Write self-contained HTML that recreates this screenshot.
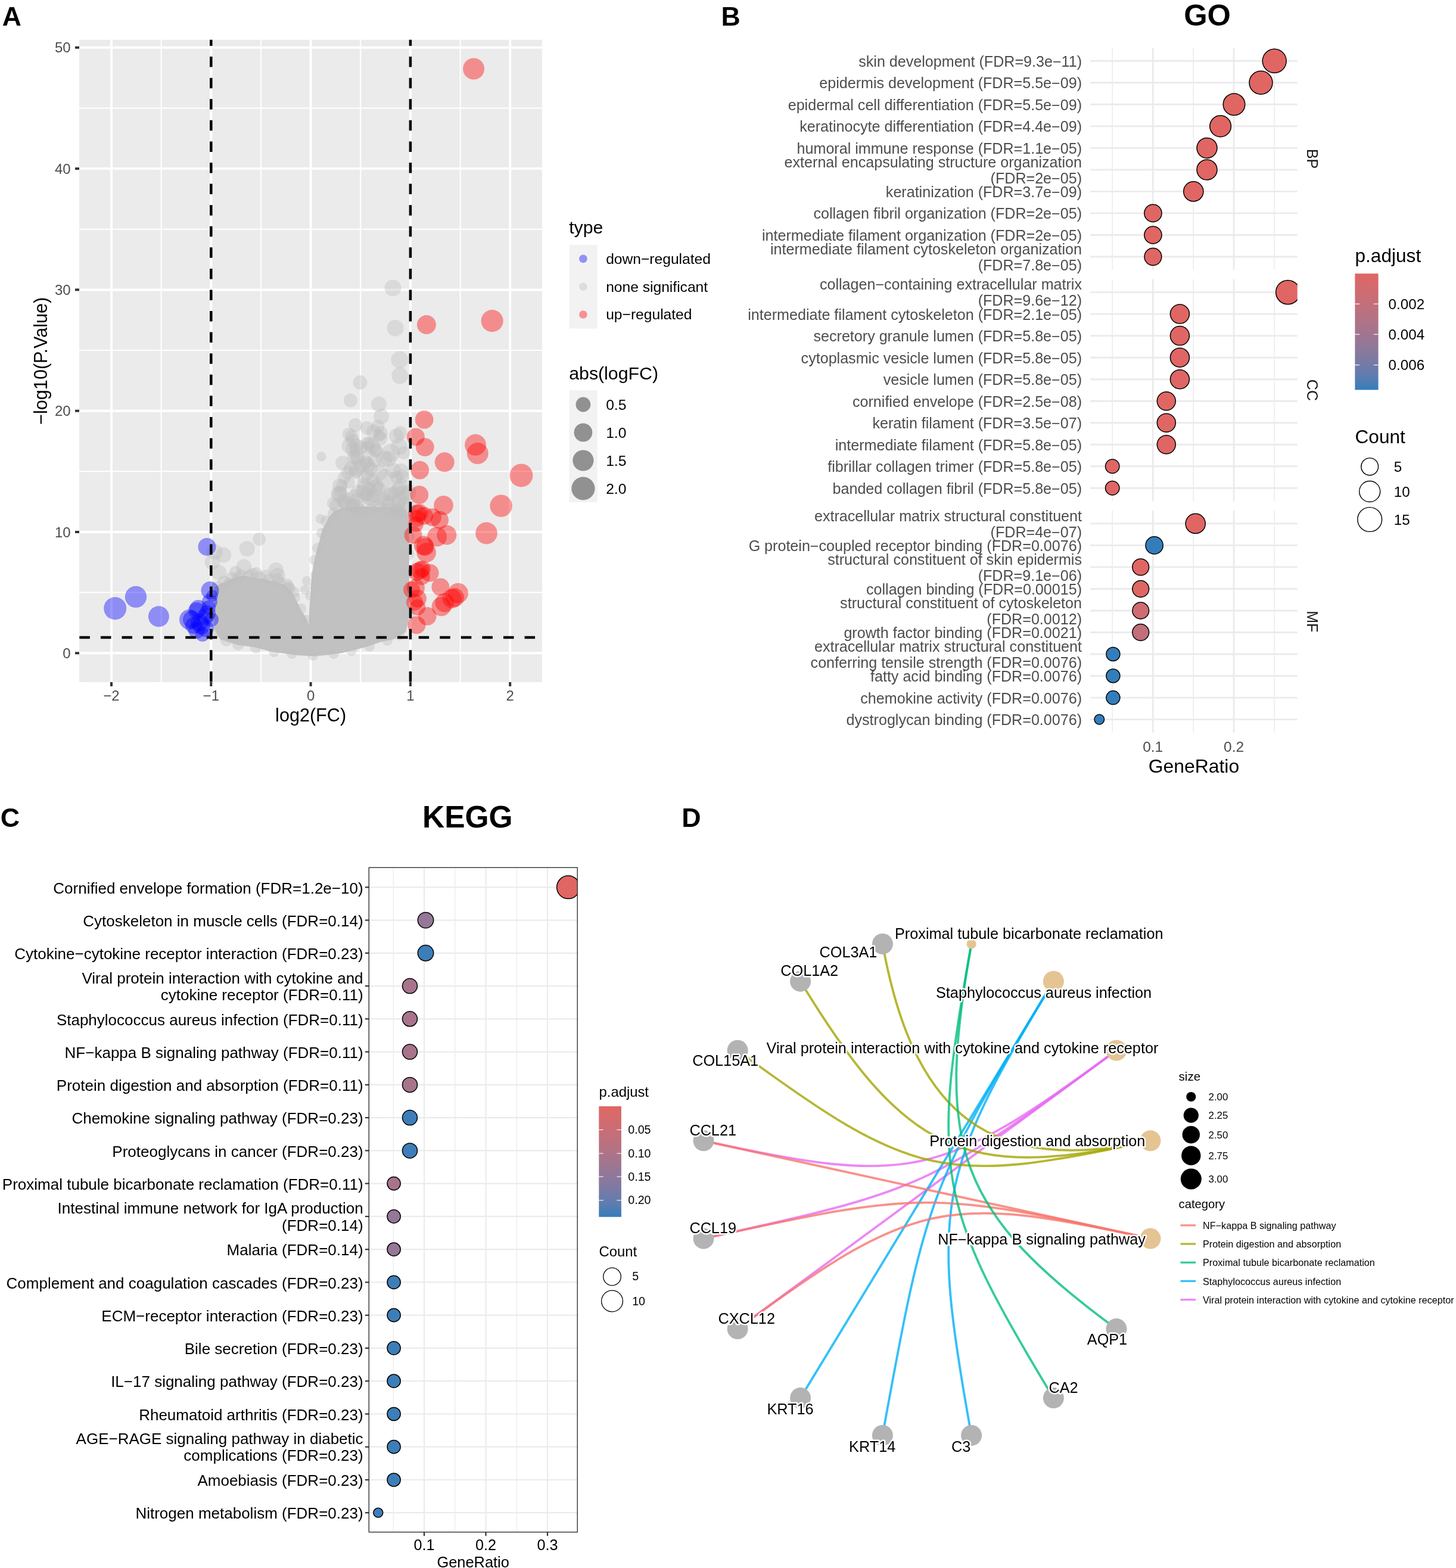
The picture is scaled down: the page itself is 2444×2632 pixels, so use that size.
<!DOCTYPE html><html><head><meta charset="utf-8"><title>Figure</title><style>html,body{margin:0;padding:0;background:#fff;overflow:hidden;}svg{display:block;}text{font-family:"Liberation Sans", Arial, sans-serif;}</style></head><body>
<svg width="2444" height="2632" viewBox="0 0 2444 2632">
<rect x="0" y="0" width="2444" height="2632" fill="#fff"/>
<defs><linearGradient id="gbar" x1="0" y1="0" x2="0" y2="1"><stop offset="0.00" stop-color="#e06663"/><stop offset="0.05" stop-color="#db6867"/><stop offset="0.10" stop-color="#d56a6c"/><stop offset="0.15" stop-color="#cf6b70"/><stop offset="0.20" stop-color="#ca6d74"/><stop offset="0.25" stop-color="#c46f79"/><stop offset="0.30" stop-color="#be707d"/><stop offset="0.35" stop-color="#b77181"/><stop offset="0.40" stop-color="#b17386"/><stop offset="0.45" stop-color="#aa748a"/><stop offset="0.50" stop-color="#a3758e"/><stop offset="0.55" stop-color="#9c7693"/><stop offset="0.60" stop-color="#947797"/><stop offset="0.65" stop-color="#8c789b"/><stop offset="0.70" stop-color="#8479a0"/><stop offset="0.75" stop-color="#7a7aa4"/><stop offset="0.80" stop-color="#707ba8"/><stop offset="0.85" stop-color="#657cad"/><stop offset="0.90" stop-color="#577db1"/><stop offset="0.95" stop-color="#487db6"/><stop offset="1.00" stop-color="#327eba"/></linearGradient><clipPath id="clipA"><rect x="133" y="66.8" width="777" height="1078.2"/></clipPath><clipPath id="clipGO1"><rect x="1830" y="80.4" width="347.7" height="372.5"/></clipPath><clipPath id="clipGO2"><rect x="1830" y="468.7" width="347.7" height="372.5"/></clipPath><clipPath id="clipGO3"><rect x="1830" y="857" width="347.7" height="372.3"/></clipPath><clipPath id="clipK"><rect x="619.3" y="1456.3" width="349.9" height="1115.4"/></clipPath></defs>
<text x="3.8" y="43.2" font-size="44.5" fill="#000" font-weight="bold">A</text>
<rect x="133.0" y="66.8" width="777.0" height="1078.2" fill="#EBEBEB"/>
<line x1="133.0" y1="994.6" x2="910.0" y2="994.6" stroke="#fff" stroke-width="2"/>
<line x1="133.0" y1="791.3" x2="910.0" y2="791.3" stroke="#fff" stroke-width="2"/>
<line x1="133.0" y1="588.0" x2="910.0" y2="588.0" stroke="#fff" stroke-width="2"/>
<line x1="133.0" y1="384.8" x2="910.0" y2="384.8" stroke="#fff" stroke-width="2"/>
<line x1="133.0" y1="181.5" x2="910.0" y2="181.5" stroke="#fff" stroke-width="2"/>
<line x1="270.6" y1="66.8" x2="270.6" y2="1145.0" stroke="#fff" stroke-width="2"/>
<line x1="438.0" y1="66.8" x2="438.0" y2="1145.0" stroke="#fff" stroke-width="2"/>
<line x1="605.2" y1="66.8" x2="605.2" y2="1145.0" stroke="#fff" stroke-width="2"/>
<line x1="772.6" y1="66.8" x2="772.6" y2="1145.0" stroke="#fff" stroke-width="2"/>
<line x1="133.0" y1="1096.3" x2="910.0" y2="1096.3" stroke="#fff" stroke-width="4"/>
<line x1="133.0" y1="893.0" x2="910.0" y2="893.0" stroke="#fff" stroke-width="4"/>
<line x1="133.0" y1="689.7" x2="910.0" y2="689.7" stroke="#fff" stroke-width="4"/>
<line x1="133.0" y1="486.4" x2="910.0" y2="486.4" stroke="#fff" stroke-width="4"/>
<line x1="133.0" y1="283.1" x2="910.0" y2="283.1" stroke="#fff" stroke-width="4"/>
<line x1="133.0" y1="79.8" x2="910.0" y2="79.8" stroke="#fff" stroke-width="4"/>
<line x1="187.0" y1="66.8" x2="187.0" y2="1145.0" stroke="#fff" stroke-width="4"/>
<line x1="354.3" y1="66.8" x2="354.3" y2="1145.0" stroke="#fff" stroke-width="4"/>
<line x1="521.6" y1="66.8" x2="521.6" y2="1145.0" stroke="#fff" stroke-width="4"/>
<line x1="688.9" y1="66.8" x2="688.9" y2="1145.0" stroke="#fff" stroke-width="4"/>
<line x1="856.2" y1="66.8" x2="856.2" y2="1145.0" stroke="#fff" stroke-width="4"/>
<g clip-path="url(#clipA)">
<path d="M361.0,986.0 L372.0,979.0 L384.0,974.0 L394.5,969.6 L408.2,965.7 L423.8,969.6 L441.3,971.6 L456.9,975.5 L476.4,981.3 L488.1,991.0 L495.9,1004.7 L505.6,1024.2 L515.3,1039.7 L518.3,1049.5 L519.5,1016.4 L521.2,996.9 L523.1,967.7 L527.0,944.3 L532.9,919.0 L536.8,905.3 L540.7,889.7 L546.0,880.0 L552.0,868.0 L561.0,858.0 L575.0,852.0 L590.0,851.0 L610.0,850.0 L630.0,851.0 L650.0,851.0 L668.0,852.0 L682.0,856.0 L686.0,870.0 L687.0,960.0 L686.0,1040.0 L681.0,1061.2 L661.4,1072.9 L642.0,1076.8 L612.7,1086.5 L573.8,1096.3 L545.0,1100.0 L525.1,1101.5 L500.0,1100.0 L486.1,1098.2 L456.9,1094.3 L427.7,1086.5 L398.4,1082.6 L369.2,1072.9 L359.5,1055.3 L359.5,1016.4 Z" fill="#C1C1C1"/>
<circle cx="366.0" cy="985.0" r="10.0" fill="rgba(190,190,190,0.4)"/>
<circle cx="376.0" cy="976.0" r="10.0" fill="rgba(190,190,190,0.4)"/>
<circle cx="388.0" cy="970.0" r="10.0" fill="rgba(190,190,190,0.4)"/>
<circle cx="404.0" cy="965.0" r="10.0" fill="rgba(190,190,190,0.4)"/>
<circle cx="424.0" cy="963.0" r="10.0" fill="rgba(190,190,190,0.4)"/>
<circle cx="446.0" cy="966.0" r="10.0" fill="rgba(190,190,190,0.4)"/>
<circle cx="466.0" cy="972.0" r="10.0" fill="rgba(190,190,190,0.4)"/>
<circle cx="482.0" cy="981.0" r="10.0" fill="rgba(190,190,190,0.4)"/>
<circle cx="494.0" cy="994.0" r="9.0" fill="rgba(190,190,190,0.4)"/>
<circle cx="370.0" cy="990.0" r="10.0" fill="rgba(190,190,190,0.4)"/>
<circle cx="385.0" cy="980.0" r="11.0" fill="rgba(190,190,190,0.4)"/>
<circle cx="400.0" cy="970.0" r="10.0" fill="rgba(190,190,190,0.4)"/>
<circle cx="418.0" cy="966.0" r="10.0" fill="rgba(190,190,190,0.4)"/>
<circle cx="436.0" cy="969.0" r="10.0" fill="rgba(190,190,190,0.4)"/>
<circle cx="452.0" cy="973.0" r="10.0" fill="rgba(190,190,190,0.4)"/>
<circle cx="470.0" cy="978.0" r="10.0" fill="rgba(190,190,190,0.4)"/>
<circle cx="486.0" cy="988.0" r="10.0" fill="rgba(190,190,190,0.4)"/>
<circle cx="495.0" cy="1003.0" r="9.0" fill="rgba(190,190,190,0.4)"/>
<circle cx="505.0" cy="1022.0" r="9.0" fill="rgba(190,190,190,0.4)"/>
<circle cx="514.0" cy="1040.0" r="8.0" fill="rgba(190,190,190,0.4)"/>
<circle cx="528.0" cy="940.0" r="9.0" fill="rgba(190,190,190,0.4)"/>
<circle cx="533.0" cy="920.0" r="9.0" fill="rgba(190,190,190,0.4)"/>
<circle cx="540.0" cy="895.0" r="9.0" fill="rgba(190,190,190,0.4)"/>
<circle cx="548.0" cy="875.0" r="10.0" fill="rgba(190,190,190,0.4)"/>
<circle cx="560.0" cy="862.0" r="10.0" fill="rgba(190,190,190,0.4)"/>
<circle cx="365.0" cy="1060.0" r="10.0" fill="rgba(190,190,190,0.4)"/>
<circle cx="380.0" cy="1075.0" r="10.0" fill="rgba(190,190,190,0.4)"/>
<circle cx="400.0" cy="1082.0" r="10.0" fill="rgba(190,190,190,0.4)"/>
<circle cx="430.0" cy="1087.0" r="10.0" fill="rgba(190,190,190,0.4)"/>
<circle cx="460.0" cy="1094.0" r="9.0" fill="rgba(190,190,190,0.4)"/>
<circle cx="490.0" cy="1097.0" r="9.0" fill="rgba(190,190,190,0.4)"/>
<circle cx="525.0" cy="1100.0" r="9.0" fill="rgba(190,190,190,0.4)"/>
<circle cx="560.0" cy="1097.0" r="9.0" fill="rgba(190,190,190,0.4)"/>
<circle cx="590.0" cy="1092.0" r="9.0" fill="rgba(190,190,190,0.4)"/>
<circle cx="620.0" cy="1085.0" r="9.0" fill="rgba(190,190,190,0.4)"/>
<circle cx="650.0" cy="1075.0" r="9.0" fill="rgba(190,190,190,0.4)"/>
<circle cx="670.0" cy="1066.0" r="9.0" fill="rgba(190,190,190,0.4)"/>
<circle cx="659.5" cy="483.4" r="14.0" fill="rgba(190,190,190,0.4)"/>
<circle cx="663.6" cy="550.7" r="14.0" fill="rgba(190,190,190,0.4)"/>
<circle cx="670.9" cy="604.0" r="14.6" fill="rgba(190,190,190,0.4)"/>
<circle cx="671.2" cy="630.6" r="14.0" fill="rgba(190,190,190,0.4)"/>
<circle cx="604.5" cy="642.0" r="12.0" fill="rgba(190,190,190,0.4)"/>
<circle cx="588.3" cy="672.0" r="11.5" fill="rgba(190,190,190,0.4)"/>
<circle cx="635.9" cy="678.6" r="13.0" fill="rgba(190,190,190,0.4)"/>
<circle cx="640.1" cy="699.1" r="13.0" fill="rgba(190,190,190,0.4)"/>
<circle cx="596.7" cy="713.6" r="11.5" fill="rgba(190,190,190,0.4)"/>
<circle cx="626.9" cy="724.4" r="12.0" fill="rgba(190,190,190,0.4)"/>
<circle cx="638.9" cy="726.9" r="12.0" fill="rgba(190,190,190,0.4)"/>
<circle cx="665.5" cy="731.7" r="12.5" fill="rgba(190,190,190,0.4)"/>
<circle cx="591.9" cy="740.1" r="11.5" fill="rgba(190,190,190,0.4)"/>
<circle cx="597.9" cy="747.4" r="11.5" fill="rgba(190,190,190,0.4)"/>
<circle cx="617.2" cy="752.2" r="11.5" fill="rgba(190,190,190,0.4)"/>
<circle cx="630.5" cy="755.8" r="12.0" fill="rgba(190,190,190,0.4)"/>
<circle cx="655.8" cy="760.6" r="15.5" fill="rgba(190,190,190,0.4)"/>
<circle cx="652.2" cy="770.3" r="13.0" fill="rgba(190,190,190,0.4)"/>
<circle cx="605.1" cy="782.3" r="12.0" fill="rgba(190,190,190,0.4)"/>
<circle cx="622.0" cy="787.2" r="12.0" fill="rgba(190,190,190,0.4)"/>
<circle cx="583.4" cy="793.2" r="11.0" fill="rgba(190,190,190,0.4)"/>
<circle cx="646.2" cy="802.8" r="15.5" fill="rgba(190,190,190,0.4)"/>
<circle cx="573.8" cy="814.9" r="10.0" fill="rgba(190,190,190,0.4)"/>
<circle cx="585.8" cy="810.1" r="10.0" fill="rgba(190,190,190,0.4)"/>
<circle cx="669.1" cy="821.0" r="13.0" fill="rgba(190,190,190,0.4)"/>
<circle cx="584.6" cy="836.6" r="10.0" fill="rgba(190,190,190,0.4)"/>
<circle cx="642.5" cy="839.0" r="13.0" fill="rgba(190,190,190,0.4)"/>
<circle cx="539.5" cy="766.5" r="8.0" fill="rgba(190,190,190,0.4)"/>
<circle cx="537.8" cy="871.0" r="8.0" fill="rgba(190,190,190,0.4)"/>
<circle cx="600.0" cy="770.0" r="12.0" fill="rgba(190,190,190,0.4)"/>
<circle cx="612.0" cy="800.0" r="12.0" fill="rgba(190,190,190,0.4)"/>
<circle cx="632.0" cy="815.0" r="12.0" fill="rgba(190,190,190,0.4)"/>
<circle cx="660.0" cy="790.0" r="13.0" fill="rgba(190,190,190,0.4)"/>
<circle cx="675.0" cy="800.0" r="12.0" fill="rgba(190,190,190,0.4)"/>
<circle cx="678.0" cy="760.0" r="11.0" fill="rgba(190,190,190,0.4)"/>
<circle cx="615.0" cy="830.0" r="12.0" fill="rgba(190,190,190,0.4)"/>
<circle cx="600.0" cy="825.0" r="11.0" fill="rgba(190,190,190,0.4)"/>
<circle cx="590.0" cy="850.0" r="11.0" fill="rgba(190,190,190,0.4)"/>
<circle cx="650.0" cy="830.0" r="12.0" fill="rgba(190,190,190,0.4)"/>
<circle cx="668.0" cy="845.0" r="12.0" fill="rgba(190,190,190,0.4)"/>
<circle cx="560.0" cy="845.0" r="11.0" fill="rgba(190,190,190,0.4)"/>
<circle cx="575.0" cy="840.0" r="11.0" fill="rgba(190,190,190,0.4)"/>
<circle cx="435.2" cy="905.0" r="11.0" fill="rgba(190,190,190,0.4)"/>
<circle cx="414.7" cy="921.0" r="13.0" fill="rgba(190,190,190,0.4)"/>
<circle cx="375.3" cy="931.6" r="13.0" fill="rgba(190,190,190,0.4)"/>
<circle cx="360.6" cy="926.2" r="13.0" fill="rgba(190,190,190,0.4)"/>
<circle cx="356.6" cy="943.5" r="13.0" fill="rgba(190,190,190,0.4)"/>
<circle cx="367.3" cy="960.9" r="13.0" fill="rgba(190,190,190,0.4)"/>
<circle cx="409.4" cy="951.5" r="13.0" fill="rgba(190,190,190,0.4)"/>
<circle cx="463.2" cy="956.9" r="13.0" fill="rgba(190,190,190,0.4)"/>
<circle cx="465.8" cy="966.2" r="13.0" fill="rgba(190,190,190,0.4)"/>
<circle cx="484.5" cy="984.8" r="9.5" fill="rgba(190,190,190,0.4)"/>
<circle cx="395.0" cy="960.0" r="10.0" fill="rgba(190,190,190,0.4)"/>
<circle cx="430.0" cy="962.0" r="10.0" fill="rgba(190,190,190,0.4)"/>
<circle cx="520.0" cy="1000.0" r="8.0" fill="rgba(190,190,190,0.4)"/>
<circle cx="512.0" cy="990.0" r="8.0" fill="rgba(190,190,190,0.4)"/>
<circle cx="515.0" cy="975.0" r="8.0" fill="rgba(190,190,190,0.4)"/>
<circle cx="528.0" cy="985.0" r="9.0" fill="rgba(190,190,190,0.4)"/>
<circle cx="530.0" cy="965.0" r="9.0" fill="rgba(190,190,190,0.4)"/>
<circle cx="683.0" cy="870.0" r="12.0" fill="rgba(190,190,190,0.4)"/>
<circle cx="684.0" cy="900.0" r="12.0" fill="rgba(190,190,190,0.4)"/>
<circle cx="683.0" cy="930.0" r="12.0" fill="rgba(190,190,190,0.4)"/>
<circle cx="684.0" cy="960.0" r="12.0" fill="rgba(190,190,190,0.4)"/>
<circle cx="683.0" cy="995.0" r="12.0" fill="rgba(190,190,190,0.4)"/>
<circle cx="684.0" cy="1030.0" r="12.0" fill="rgba(190,190,190,0.4)"/>
<circle cx="589.8" cy="786.7" r="12.8" fill="rgba(190,190,190,0.4)"/>
<circle cx="638.4" cy="735.8" r="11.8" fill="rgba(190,190,190,0.4)"/>
<circle cx="636.3" cy="730.9" r="10.6" fill="rgba(190,190,190,0.4)"/>
<circle cx="577.7" cy="801.9" r="10.8" fill="rgba(190,190,190,0.4)"/>
<circle cx="665.9" cy="800.8" r="10.9" fill="rgba(190,190,190,0.4)"/>
<circle cx="645.0" cy="770.3" r="13.8" fill="rgba(190,190,190,0.4)"/>
<circle cx="613.7" cy="819.1" r="13.9" fill="rgba(190,190,190,0.4)"/>
<circle cx="671.9" cy="726.7" r="11.5" fill="rgba(190,190,190,0.4)"/>
<circle cx="591.7" cy="754.6" r="11.6" fill="rgba(190,190,190,0.4)"/>
<circle cx="580.0" cy="843.6" r="12.5" fill="rgba(190,190,190,0.4)"/>
<circle cx="609.2" cy="825.9" r="12.4" fill="rgba(190,190,190,0.4)"/>
<circle cx="590.5" cy="732.6" r="11.2" fill="rgba(190,190,190,0.4)"/>
<circle cx="615.0" cy="830.2" r="11.6" fill="rgba(190,190,190,0.4)"/>
<circle cx="620.4" cy="820.1" r="11.5" fill="rgba(190,190,190,0.4)"/>
<circle cx="647.3" cy="841.5" r="11.4" fill="rgba(190,190,190,0.4)"/>
<circle cx="629.1" cy="818.8" r="13.6" fill="rgba(190,190,190,0.4)"/>
<circle cx="596.2" cy="835.2" r="13.9" fill="rgba(190,190,190,0.4)"/>
<circle cx="624.5" cy="748.4" r="13.1" fill="rgba(190,190,190,0.4)"/>
<circle cx="631.2" cy="756.3" r="10.6" fill="rgba(190,190,190,0.4)"/>
<circle cx="656.9" cy="829.0" r="12.5" fill="rgba(190,190,190,0.4)"/>
<circle cx="595.7" cy="849.1" r="12.9" fill="rgba(190,190,190,0.4)"/>
<circle cx="635.4" cy="821.1" r="12.1" fill="rgba(190,190,190,0.4)"/>
<circle cx="678.8" cy="845.8" r="12.2" fill="rgba(190,190,190,0.4)"/>
<circle cx="570.1" cy="828.5" r="13.0" fill="rgba(190,190,190,0.4)"/>
<circle cx="685.2" cy="826.8" r="13.4" fill="rgba(190,190,190,0.4)"/>
<circle cx="617.1" cy="780.7" r="12.8" fill="rgba(190,190,190,0.4)"/>
<circle cx="634.4" cy="715.5" r="11.1" fill="rgba(190,190,190,0.4)"/>
<circle cx="586.6" cy="748.2" r="13.2" fill="rgba(190,190,190,0.4)"/>
<circle cx="606.1" cy="751.1" r="11.9" fill="rgba(190,190,190,0.4)"/>
<circle cx="565.1" cy="848.7" r="12.1" fill="rgba(190,190,190,0.4)"/>
<circle cx="672.1" cy="816.0" r="13.4" fill="rgba(190,190,190,0.4)"/>
<circle cx="591.3" cy="848.0" r="12.0" fill="rgba(190,190,190,0.4)"/>
<circle cx="672.8" cy="791.8" r="13.9" fill="rgba(190,190,190,0.4)"/>
<circle cx="597.7" cy="756.0" r="11.3" fill="rgba(190,190,190,0.4)"/>
<circle cx="629.1" cy="772.1" r="12.6" fill="rgba(190,190,190,0.4)"/>
<circle cx="575.0" cy="777.1" r="12.0" fill="rgba(190,190,190,0.4)"/>
<circle cx="636.3" cy="793.3" r="13.8" fill="rgba(190,190,190,0.4)"/>
<circle cx="625.7" cy="831.3" r="12.7" fill="rgba(190,190,190,0.4)"/>
<circle cx="568.8" cy="829.8" r="13.6" fill="rgba(190,190,190,0.4)"/>
<circle cx="669.9" cy="840.1" r="13.3" fill="rgba(190,190,190,0.4)"/>
<circle cx="616.7" cy="796.5" r="10.9" fill="rgba(190,190,190,0.4)"/>
<circle cx="571.4" cy="825.4" r="10.7" fill="rgba(190,190,190,0.4)"/>
<circle cx="594.2" cy="767.7" r="11.7" fill="rgba(190,190,190,0.4)"/>
<circle cx="585.7" cy="729.0" r="11.0" fill="rgba(190,190,190,0.4)"/>
<circle cx="619.3" cy="744.2" r="10.6" fill="rgba(190,190,190,0.4)"/>
<circle cx="635.2" cy="849.0" r="11.0" fill="rgba(190,190,190,0.4)"/>
<circle cx="613.5" cy="775.4" r="11.8" fill="rgba(190,190,190,0.4)"/>
<circle cx="670.0" cy="749.6" r="14.0" fill="rgba(190,190,190,0.4)"/>
<circle cx="625.5" cy="806.0" r="10.8" fill="rgba(190,190,190,0.4)"/>
<circle cx="617.1" cy="744.3" r="11.4" fill="rgba(190,190,190,0.4)"/>
<circle cx="577.1" cy="844.8" r="10.6" fill="rgba(190,190,190,0.4)"/>
<circle cx="622.8" cy="855.8" r="11.0" fill="rgba(190,190,190,0.4)"/>
<circle cx="570.2" cy="815.3" r="12.3" fill="rgba(190,190,190,0.4)"/>
<circle cx="667.7" cy="858.2" r="12.9" fill="rgba(190,190,190,0.4)"/>
<circle cx="615.5" cy="776.9" r="11.1" fill="rgba(190,190,190,0.4)"/>
<circle cx="626.3" cy="839.4" r="13.2" fill="rgba(190,190,190,0.4)"/>
<circle cx="597.8" cy="787.6" r="13.3" fill="rgba(190,190,190,0.4)"/>
<circle cx="666.3" cy="858.7" r="13.3" fill="rgba(190,190,190,0.4)"/>
<circle cx="652.3" cy="843.8" r="11.3" fill="rgba(190,190,190,0.4)"/>
<circle cx="609.7" cy="812.3" r="10.6" fill="rgba(190,190,190,0.4)"/>
<circle cx="616.2" cy="718.4" r="11.4" fill="rgba(190,190,190,0.4)"/>
<circle cx="680.6" cy="831.5" r="12.1" fill="rgba(190,190,190,0.4)"/>
<circle cx="684.4" cy="854.6" r="13.8" fill="rgba(190,190,190,0.4)"/>
<circle cx="596.7" cy="792.7" r="11.3" fill="rgba(190,190,190,0.4)"/>
<circle cx="599.2" cy="765.4" r="12.7" fill="rgba(190,190,190,0.4)"/>
<circle cx="664.9" cy="851.3" r="12.2" fill="rgba(190,190,190,0.4)"/>
<circle cx="661.4" cy="827.4" r="10.8" fill="rgba(190,190,190,0.4)"/>
<circle cx="674.9" cy="828.2" r="13.2" fill="rgba(190,190,190,0.4)"/>
<circle cx="619.8" cy="837.2" r="11.1" fill="rgba(190,190,190,0.4)"/>
<circle cx="600.3" cy="841.0" r="13.3" fill="rgba(190,190,190,0.4)"/>
<circle cx="605.0" cy="857.6" r="11.9" fill="rgba(190,190,190,0.4)"/>
<circle cx="649.1" cy="855.4" r="11.1" fill="rgba(190,190,190,0.4)"/>
<circle cx="193.2" cy="1021.3" r="19.0" fill="rgba(0,0,255,0.4)"/>
<circle cx="228.0" cy="1001.9" r="18.2" fill="rgba(0,0,255,0.4)"/>
<circle cx="266.4" cy="1034.8" r="17.5" fill="rgba(0,0,255,0.4)"/>
<circle cx="347.5" cy="917.9" r="15.0" fill="rgba(0,0,255,0.4)"/>
<circle cx="352.5" cy="991.0" r="15.0" fill="rgba(0,0,255,0.4)"/>
<circle cx="318.0" cy="1040.0" r="17.0" fill="rgba(0,0,255,0.4)"/>
<circle cx="333.0" cy="1022.0" r="15.0" fill="rgba(0,0,255,0.4)"/>
<circle cx="335.0" cy="1045.0" r="15.0" fill="rgba(0,0,255,0.4)"/>
<circle cx="345.0" cy="1055.0" r="14.0" fill="rgba(0,0,255,0.4)"/>
<circle cx="330.0" cy="1058.0" r="14.0" fill="rgba(0,0,255,0.4)"/>
<circle cx="352.0" cy="1010.0" r="13.0" fill="rgba(0,0,255,0.4)"/>
<circle cx="348.0" cy="1030.0" r="14.0" fill="rgba(0,0,255,0.4)"/>
<circle cx="325.0" cy="1050.0" r="14.0" fill="rgba(0,0,255,0.4)"/>
<circle cx="355.0" cy="1040.0" r="12.0" fill="rgba(0,0,255,0.4)"/>
<circle cx="340.0" cy="1065.0" r="12.0" fill="rgba(0,0,255,0.4)"/>
<circle cx="350.0" cy="1020.0" r="12.0" fill="rgba(0,0,255,0.4)"/>
<circle cx="356.0" cy="1000.0" r="10.0" fill="rgba(0,0,255,0.4)"/>
<circle cx="322.0" cy="1040.0" r="15.0" fill="rgba(0,0,255,0.4)"/>
<circle cx="338.0" cy="1050.0" r="15.0" fill="rgba(0,0,255,0.4)"/>
<circle cx="345.0" cy="1035.0" r="14.0" fill="rgba(0,0,255,0.4)"/>
<circle cx="330.0" cy="1025.0" r="14.0" fill="rgba(0,0,255,0.4)"/>
<circle cx="795.1" cy="115.5" r="18.0" fill="rgba(255,0,0,0.4)"/>
<circle cx="715.9" cy="545.0" r="16.0" fill="rgba(255,0,0,0.4)"/>
<circle cx="826.1" cy="538.6" r="18.6" fill="rgba(255,0,0,0.4)"/>
<circle cx="712.1" cy="704.4" r="15.4" fill="rgba(255,0,0,0.4)"/>
<circle cx="697.9" cy="733.4" r="15.0" fill="rgba(255,0,0,0.4)"/>
<circle cx="713.3" cy="750.6" r="15.4" fill="rgba(255,0,0,0.4)"/>
<circle cx="798.1" cy="746.8" r="18.0" fill="rgba(255,0,0,0.4)"/>
<circle cx="801.7" cy="761.0" r="18.0" fill="rgba(255,0,0,0.4)"/>
<circle cx="746.2" cy="775.8" r="16.5" fill="rgba(255,0,0,0.4)"/>
<circle cx="704.7" cy="789.2" r="15.4" fill="rgba(255,0,0,0.4)"/>
<circle cx="874.9" cy="798.1" r="19.5" fill="rgba(255,0,0,0.4)"/>
<circle cx="703.8" cy="830.7" r="15.4" fill="rgba(255,0,0,0.4)"/>
<circle cx="744.5" cy="848.2" r="16.3" fill="rgba(255,0,0,0.4)"/>
<circle cx="841.1" cy="849.1" r="18.7" fill="rgba(255,0,0,0.4)"/>
<circle cx="703.8" cy="861.0" r="15.0" fill="rgba(255,0,0,0.4)"/>
<circle cx="726.0" cy="868.3" r="15.0" fill="rgba(255,0,0,0.4)"/>
<circle cx="738.0" cy="872.8" r="15.0" fill="rgba(255,0,0,0.4)"/>
<circle cx="749.8" cy="898.0" r="16.5" fill="rgba(255,0,0,0.4)"/>
<circle cx="733.5" cy="901.0" r="16.5" fill="rgba(255,0,0,0.4)"/>
<circle cx="816.5" cy="895.0" r="18.4" fill="rgba(255,0,0,0.4)"/>
<circle cx="693.5" cy="898.0" r="15.0" fill="rgba(255,0,0,0.4)"/>
<circle cx="711.2" cy="915.8" r="16.3" fill="rgba(255,0,0,0.4)"/>
<circle cx="715.7" cy="927.6" r="16.3" fill="rgba(255,0,0,0.4)"/>
<circle cx="705.3" cy="957.3" r="15.0" fill="rgba(255,0,0,0.4)"/>
<circle cx="721.6" cy="961.7" r="15.0" fill="rgba(255,0,0,0.4)"/>
<circle cx="739.4" cy="985.4" r="15.0" fill="rgba(255,0,0,0.4)"/>
<circle cx="769.0" cy="995.8" r="17.0" fill="rgba(255,0,0,0.4)"/>
<circle cx="758.7" cy="1004.7" r="16.3" fill="rgba(255,0,0,0.4)"/>
<circle cx="740.9" cy="1018.0" r="16.3" fill="rgba(255,0,0,0.4)"/>
<circle cx="697.9" cy="986.9" r="15.0" fill="rgba(255,0,0,0.4)"/>
<circle cx="700.9" cy="1004.7" r="15.0" fill="rgba(255,0,0,0.4)"/>
<circle cx="700.9" cy="1019.5" r="13.5" fill="rgba(255,0,0,0.4)"/>
<circle cx="717.2" cy="1034.4" r="15.4" fill="rgba(255,0,0,0.4)"/>
<circle cx="699.4" cy="1049.2" r="15.0" fill="rgba(255,0,0,0.4)"/>
<circle cx="700.0" cy="870.0" r="14.0" fill="rgba(255,0,0,0.4)"/>
<circle cx="698.0" cy="880.0" r="13.0" fill="rgba(255,0,0,0.4)"/>
<circle cx="708.0" cy="968.0" r="14.0" fill="rgba(255,0,0,0.4)"/>
<circle cx="700.0" cy="862.0" r="15.0" fill="rgba(255,0,0,0.4)"/>
<circle cx="712.0" cy="866.0" r="15.0" fill="rgba(255,0,0,0.4)"/>
<circle cx="713.6" cy="918.0" r="15.0" fill="rgba(255,0,0,0.4)"/>
<circle cx="700.0" cy="960.0" r="15.0" fill="rgba(255,0,0,0.4)"/>
<circle cx="709.0" cy="955.0" r="14.0" fill="rgba(255,0,0,0.4)"/>
<circle cx="691.0" cy="990.0" r="14.0" fill="rgba(255,0,0,0.4)"/>
<circle cx="746.4" cy="1011.5" r="16.0" fill="rgba(255,0,0,0.4)"/>
<circle cx="763.2" cy="1003.0" r="16.0" fill="rgba(255,0,0,0.4)"/>
<circle cx="696.0" cy="1011.0" r="14.0" fill="rgba(255,0,0,0.4)"/>
<line x1="354.3" y1="59.5" x2="354.3" y2="1150" stroke="#000" stroke-width="4.5" stroke-dasharray="17.5 18.08"/>
<line x1="688.9" y1="59.5" x2="688.9" y2="1150" stroke="#000" stroke-width="4.5" stroke-dasharray="17.5 18.08"/>
<line x1="97.8" y1="1069.9" x2="915" y2="1069.9" stroke="#000" stroke-width="4.5" stroke-dasharray="17.5 18.08"/>
</g>
<line x1="126.0" y1="1096.3" x2="133.0" y2="1096.3" stroke="#333333" stroke-width="4"/>
<text x="118.7" y="1104.9" font-size="24" fill="#4D4D4D" text-anchor="end">0</text>
<line x1="126.0" y1="893.0" x2="133.0" y2="893.0" stroke="#333333" stroke-width="4"/>
<text x="118.7" y="901.6" font-size="24" fill="#4D4D4D" text-anchor="end">10</text>
<line x1="126.0" y1="689.7" x2="133.0" y2="689.7" stroke="#333333" stroke-width="4"/>
<text x="118.7" y="698.3" font-size="24" fill="#4D4D4D" text-anchor="end">20</text>
<line x1="126.0" y1="486.4" x2="133.0" y2="486.4" stroke="#333333" stroke-width="4"/>
<text x="118.7" y="495.0" font-size="24" fill="#4D4D4D" text-anchor="end">30</text>
<line x1="126.0" y1="283.1" x2="133.0" y2="283.1" stroke="#333333" stroke-width="4"/>
<text x="118.7" y="291.7" font-size="24" fill="#4D4D4D" text-anchor="end">40</text>
<line x1="126.0" y1="79.8" x2="133.0" y2="79.8" stroke="#333333" stroke-width="4"/>
<text x="118.7" y="88.4" font-size="24" fill="#4D4D4D" text-anchor="end">50</text>
<line x1="187.0" y1="1145.0" x2="187.0" y2="1152.0" stroke="#333333" stroke-width="4"/>
<text x="187.0" y="1176.2" font-size="24" fill="#4D4D4D" text-anchor="middle">−2</text>
<line x1="354.3" y1="1145.0" x2="354.3" y2="1152.0" stroke="#333333" stroke-width="4"/>
<text x="354.3" y="1176.2" font-size="24" fill="#4D4D4D" text-anchor="middle">−1</text>
<line x1="521.6" y1="1145.0" x2="521.6" y2="1152.0" stroke="#333333" stroke-width="4"/>
<text x="521.6" y="1176.2" font-size="24" fill="#4D4D4D" text-anchor="middle">0</text>
<line x1="688.9" y1="1145.0" x2="688.9" y2="1152.0" stroke="#333333" stroke-width="4"/>
<text x="688.9" y="1176.2" font-size="24" fill="#4D4D4D" text-anchor="middle">1</text>
<line x1="856.2" y1="1145.0" x2="856.2" y2="1152.0" stroke="#333333" stroke-width="4"/>
<text x="856.2" y="1176.2" font-size="24" fill="#4D4D4D" text-anchor="middle">2</text>
<text x="521.6" y="1211.3" font-size="30.6" fill="#000" text-anchor="middle">log2(FC)</text>
<text x="78.6" y="605.8" font-size="30.6" fill="#000" text-anchor="middle" transform="rotate(-90 78.6 605.8)">−log10(P.Value)</text>
<text x="955.2" y="391.5" font-size="30.3" fill="#000">type</text>
<rect x="955.6" y="411.0" width="46.9" height="140.5" fill="#F2F2F2"/>
<circle cx="978.9" cy="434.4" r="6.8" fill="rgba(0,0,255,0.4)"/>
<text x="1017.2" y="442.7" font-size="24.6" fill="#000">down−regulated</text>
<circle cx="978.9" cy="481.2" r="6.8" fill="rgba(190,190,190,0.4)"/>
<text x="1017.2" y="489.5" font-size="24.6" fill="#000">none significant</text>
<circle cx="978.9" cy="528.0" r="6.8" fill="rgba(255,0,0,0.4)"/>
<text x="1017.2" y="536.3" font-size="24.6" fill="#000">up−regulated</text>
<text x="955.2" y="637.0" font-size="30.3" fill="#000">abs(logFC)</text>
<rect x="955.6" y="655.0" width="46.9" height="188.0" fill="#F2F2F2"/>
<circle cx="978.9" cy="679.0" r="12.4" fill="rgba(0,0,0,0.4)"/>
<text x="1017.2" y="687.5" font-size="24.6" fill="#000">0.5</text>
<circle cx="978.9" cy="726.0" r="15.4" fill="rgba(0,0,0,0.4)"/>
<text x="1017.2" y="734.5" font-size="24.6" fill="#000">1.0</text>
<circle cx="978.9" cy="773.0" r="17.6" fill="rgba(0,0,0,0.4)"/>
<text x="1017.2" y="781.5" font-size="24.6" fill="#000">1.5</text>
<circle cx="978.9" cy="820.0" r="19.6" fill="rgba(0,0,0,0.4)"/>
<text x="1017.2" y="828.5" font-size="24.6" fill="#000">2.0</text>
<text x="1210.5" y="43.0" font-size="44.5" fill="#000" font-weight="bold">B</text>
<text x="2026.5" y="43.3" font-size="50.6" fill="#000" text-anchor="middle" font-weight="bold">GO</text>
<line x1="1867.2" y1="80.4" x2="1867.2" y2="452.9" stroke="#EBEBEB" stroke-width="1.5"/>
<line x1="2003.2" y1="80.4" x2="2003.2" y2="452.9" stroke="#EBEBEB" stroke-width="1.5"/>
<line x1="2139.1" y1="80.4" x2="2139.1" y2="452.9" stroke="#EBEBEB" stroke-width="1.5"/>
<line x1="1935.2" y1="80.4" x2="1935.2" y2="452.9" stroke="#EBEBEB" stroke-width="2.9"/>
<line x1="2071.1" y1="80.4" x2="2071.1" y2="452.9" stroke="#EBEBEB" stroke-width="2.9"/>
<line x1="1830.0" y1="102.3" x2="2177.7" y2="102.3" stroke="#EBEBEB" stroke-width="2.9"/>
<line x1="1830.0" y1="138.8" x2="2177.7" y2="138.8" stroke="#EBEBEB" stroke-width="2.9"/>
<line x1="1830.0" y1="175.3" x2="2177.7" y2="175.3" stroke="#EBEBEB" stroke-width="2.9"/>
<line x1="1830.0" y1="211.9" x2="2177.7" y2="211.9" stroke="#EBEBEB" stroke-width="2.9"/>
<line x1="1830.0" y1="248.4" x2="2177.7" y2="248.4" stroke="#EBEBEB" stroke-width="2.9"/>
<line x1="1830.0" y1="284.9" x2="2177.7" y2="284.9" stroke="#EBEBEB" stroke-width="2.9"/>
<line x1="1830.0" y1="321.4" x2="2177.7" y2="321.4" stroke="#EBEBEB" stroke-width="2.9"/>
<line x1="1830.0" y1="357.9" x2="2177.7" y2="357.9" stroke="#EBEBEB" stroke-width="2.9"/>
<line x1="1830.0" y1="394.5" x2="2177.7" y2="394.5" stroke="#EBEBEB" stroke-width="2.9"/>
<line x1="1830.0" y1="431.0" x2="2177.7" y2="431.0" stroke="#EBEBEB" stroke-width="2.9"/>
<g clip-path="url(#clipGO1)">
<circle cx="2139.2" cy="102.3" r="20.0" fill="#e06663" stroke="#000" stroke-width="1.5"/>
<circle cx="2116.5" cy="138.8" r="19.5" fill="#e06663" stroke="#000" stroke-width="1.5"/>
<circle cx="2071.5" cy="175.3" r="18.3" fill="#e06663" stroke="#000" stroke-width="1.5"/>
<circle cx="2048.6" cy="211.9" r="17.8" fill="#e06663" stroke="#000" stroke-width="1.5"/>
<circle cx="2026.0" cy="248.4" r="17.0" fill="#e06663" stroke="#000" stroke-width="1.5"/>
<circle cx="2026.0" cy="284.9" r="17.0" fill="#e06663" stroke="#000" stroke-width="1.5"/>
<circle cx="2003.3" cy="321.4" r="16.6" fill="#e06663" stroke="#000" stroke-width="1.5"/>
<circle cx="1935.4" cy="357.9" r="14.6" fill="#e06663" stroke="#000" stroke-width="1.5"/>
<circle cx="1935.4" cy="394.5" r="14.6" fill="#e06663" stroke="#000" stroke-width="1.5"/>
<circle cx="1935.4" cy="431.0" r="14.4" fill="#df6664" stroke="#000" stroke-width="1.5"/>
</g>
<text x="1816.0" y="111.8" font-size="25.1" fill="#4D4D4D" text-anchor="end">skin development (FDR=9.3e−11)</text>
<text x="1816.0" y="148.3" font-size="25.1" fill="#4D4D4D" text-anchor="end">epidermis development (FDR=5.5e−09)</text>
<text x="1816.0" y="184.8" font-size="25.1" fill="#4D4D4D" text-anchor="end">epidermal cell differentiation (FDR=5.5e−09)</text>
<text x="1816.0" y="221.4" font-size="25.1" fill="#4D4D4D" text-anchor="end">keratinocyte differentiation (FDR=4.4e−09)</text>
<text x="1816.0" y="257.9" font-size="25.1" fill="#4D4D4D" text-anchor="end">humoral immune response (FDR=1.1e−05)</text>
<text x="1816.0" y="280.6" font-size="25.1" fill="#4D4D4D" text-anchor="end">external encapsulating structure organization</text>
<text x="1816.0" y="307.5" font-size="25.1" fill="#4D4D4D" text-anchor="end">(FDR=2e−05)</text>
<text x="1816.0" y="330.9" font-size="25.1" fill="#4D4D4D" text-anchor="end">keratinization (FDR=3.7e−09)</text>
<text x="1816.0" y="367.4" font-size="25.1" fill="#4D4D4D" text-anchor="end">collagen fibril organization (FDR=2e−05)</text>
<text x="1816.0" y="404.0" font-size="25.1" fill="#4D4D4D" text-anchor="end">intermediate filament organization (FDR=2e−05)</text>
<text x="1816.0" y="426.7" font-size="25.1" fill="#4D4D4D" text-anchor="end">intermediate filament cytoskeleton organization</text>
<text x="1816.0" y="453.6" font-size="25.1" fill="#4D4D4D" text-anchor="end">(FDR=7.8e−05)</text>
<text x="2193.5" y="266.6" font-size="25" fill="#1A1A1A" text-anchor="middle" transform="rotate(90 2193.5 266.6)">BP</text>
<line x1="1867.2" y1="468.7" x2="1867.2" y2="841.2" stroke="#EBEBEB" stroke-width="1.5"/>
<line x1="2003.2" y1="468.7" x2="2003.2" y2="841.2" stroke="#EBEBEB" stroke-width="1.5"/>
<line x1="2139.1" y1="468.7" x2="2139.1" y2="841.2" stroke="#EBEBEB" stroke-width="1.5"/>
<line x1="1935.2" y1="468.7" x2="1935.2" y2="841.2" stroke="#EBEBEB" stroke-width="2.9"/>
<line x1="2071.1" y1="468.7" x2="2071.1" y2="841.2" stroke="#EBEBEB" stroke-width="2.9"/>
<line x1="1830.0" y1="490.6" x2="2177.7" y2="490.6" stroke="#EBEBEB" stroke-width="2.9"/>
<line x1="1830.0" y1="527.1" x2="2177.7" y2="527.1" stroke="#EBEBEB" stroke-width="2.9"/>
<line x1="1830.0" y1="563.6" x2="2177.7" y2="563.6" stroke="#EBEBEB" stroke-width="2.9"/>
<line x1="1830.0" y1="600.2" x2="2177.7" y2="600.2" stroke="#EBEBEB" stroke-width="2.9"/>
<line x1="1830.0" y1="636.7" x2="2177.7" y2="636.7" stroke="#EBEBEB" stroke-width="2.9"/>
<line x1="1830.0" y1="673.2" x2="2177.7" y2="673.2" stroke="#EBEBEB" stroke-width="2.9"/>
<line x1="1830.0" y1="709.7" x2="2177.7" y2="709.7" stroke="#EBEBEB" stroke-width="2.9"/>
<line x1="1830.0" y1="746.2" x2="2177.7" y2="746.2" stroke="#EBEBEB" stroke-width="2.9"/>
<line x1="1830.0" y1="782.8" x2="2177.7" y2="782.8" stroke="#EBEBEB" stroke-width="2.9"/>
<line x1="1830.0" y1="819.3" x2="2177.7" y2="819.3" stroke="#EBEBEB" stroke-width="2.9"/>
<g clip-path="url(#clipGO2)">
<circle cx="2161.8" cy="490.6" r="20.2" fill="#e06663" stroke="#000" stroke-width="1.5"/>
<circle cx="1980.4" cy="527.1" r="16.0" fill="#e06663" stroke="#000" stroke-width="1.5"/>
<circle cx="1980.4" cy="563.6" r="16.0" fill="#df6664" stroke="#000" stroke-width="1.5"/>
<circle cx="1980.4" cy="600.2" r="16.0" fill="#df6664" stroke="#000" stroke-width="1.5"/>
<circle cx="1980.4" cy="636.7" r="16.0" fill="#df6664" stroke="#000" stroke-width="1.5"/>
<circle cx="1957.8" cy="673.2" r="15.5" fill="#e06663" stroke="#000" stroke-width="1.5"/>
<circle cx="1957.8" cy="709.7" r="15.5" fill="#e06663" stroke="#000" stroke-width="1.5"/>
<circle cx="1957.8" cy="746.2" r="15.5" fill="#df6664" stroke="#000" stroke-width="1.5"/>
<circle cx="1867.2" cy="782.8" r="11.7" fill="#df6664" stroke="#000" stroke-width="1.5"/>
<circle cx="1867.2" cy="819.3" r="11.7" fill="#df6664" stroke="#000" stroke-width="1.5"/>
</g>
<text x="1816.0" y="486.3" font-size="25.1" fill="#4D4D4D" text-anchor="end">collagen−containing extracellular matrix</text>
<text x="1816.0" y="513.2" font-size="25.1" fill="#4D4D4D" text-anchor="end">(FDR=9.6e−12)</text>
<text x="1816.0" y="536.6" font-size="25.1" fill="#4D4D4D" text-anchor="end">intermediate filament cytoskeleton (FDR=2.1e−05)</text>
<text x="1816.0" y="573.1" font-size="25.1" fill="#4D4D4D" text-anchor="end">secretory granule lumen (FDR=5.8e−05)</text>
<text x="1816.0" y="609.7" font-size="25.1" fill="#4D4D4D" text-anchor="end">cytoplasmic vesicle lumen (FDR=5.8e−05)</text>
<text x="1816.0" y="646.2" font-size="25.1" fill="#4D4D4D" text-anchor="end">vesicle lumen (FDR=5.8e−05)</text>
<text x="1816.0" y="682.7" font-size="25.1" fill="#4D4D4D" text-anchor="end">cornified envelope (FDR=2.5e−08)</text>
<text x="1816.0" y="719.2" font-size="25.1" fill="#4D4D4D" text-anchor="end">keratin filament (FDR=3.5e−07)</text>
<text x="1816.0" y="755.7" font-size="25.1" fill="#4D4D4D" text-anchor="end">intermediate filament (FDR=5.8e−05)</text>
<text x="1816.0" y="792.3" font-size="25.1" fill="#4D4D4D" text-anchor="end">fibrillar collagen trimer (FDR=5.8e−05)</text>
<text x="1816.0" y="828.8" font-size="25.1" fill="#4D4D4D" text-anchor="end">banded collagen fibril (FDR=5.8e−05)</text>
<text x="2193.5" y="654.9" font-size="25" fill="#1A1A1A" text-anchor="middle" transform="rotate(90 2193.5 654.9)">CC</text>
<line x1="1867.2" y1="857.0" x2="1867.2" y2="1229.5" stroke="#EBEBEB" stroke-width="1.5"/>
<line x1="2003.2" y1="857.0" x2="2003.2" y2="1229.5" stroke="#EBEBEB" stroke-width="1.5"/>
<line x1="2139.1" y1="857.0" x2="2139.1" y2="1229.5" stroke="#EBEBEB" stroke-width="1.5"/>
<line x1="1935.2" y1="857.0" x2="1935.2" y2="1229.5" stroke="#EBEBEB" stroke-width="2.9"/>
<line x1="2071.1" y1="857.0" x2="2071.1" y2="1229.5" stroke="#EBEBEB" stroke-width="2.9"/>
<line x1="1830.0" y1="878.9" x2="2177.7" y2="878.9" stroke="#EBEBEB" stroke-width="2.9"/>
<line x1="1830.0" y1="915.4" x2="2177.7" y2="915.4" stroke="#EBEBEB" stroke-width="2.9"/>
<line x1="1830.0" y1="951.9" x2="2177.7" y2="951.9" stroke="#EBEBEB" stroke-width="2.9"/>
<line x1="1830.0" y1="988.5" x2="2177.7" y2="988.5" stroke="#EBEBEB" stroke-width="2.9"/>
<line x1="1830.0" y1="1025.0" x2="2177.7" y2="1025.0" stroke="#EBEBEB" stroke-width="2.9"/>
<line x1="1830.0" y1="1061.5" x2="2177.7" y2="1061.5" stroke="#EBEBEB" stroke-width="2.9"/>
<line x1="1830.0" y1="1098.0" x2="2177.7" y2="1098.0" stroke="#EBEBEB" stroke-width="2.9"/>
<line x1="1830.0" y1="1134.5" x2="2177.7" y2="1134.5" stroke="#EBEBEB" stroke-width="2.9"/>
<line x1="1830.0" y1="1171.1" x2="2177.7" y2="1171.1" stroke="#EBEBEB" stroke-width="2.9"/>
<line x1="1830.0" y1="1207.6" x2="2177.7" y2="1207.6" stroke="#EBEBEB" stroke-width="2.9"/>
<g clip-path="url(#clipGO3)">
<circle cx="2006.7" cy="878.9" r="16.6" fill="#e06663" stroke="#000" stroke-width="1.5"/>
<circle cx="1937.6" cy="915.4" r="14.6" fill="#337eba" stroke="#000" stroke-width="1.5"/>
<circle cx="1914.7" cy="951.9" r="13.9" fill="#e06663" stroke="#000" stroke-width="1.5"/>
<circle cx="1914.7" cy="988.5" r="13.9" fill="#de6765" stroke="#000" stroke-width="1.5"/>
<circle cx="1914.7" cy="1025.0" r="13.9" fill="#cf6c71" stroke="#000" stroke-width="1.5"/>
<circle cx="1914.7" cy="1061.5" r="13.9" fill="#c16f7b" stroke="#000" stroke-width="1.5"/>
<circle cx="1868.4" cy="1098.0" r="11.5" fill="#337eba" stroke="#000" stroke-width="1.5"/>
<circle cx="1868.4" cy="1134.5" r="11.5" fill="#337eba" stroke="#000" stroke-width="1.5"/>
<circle cx="1868.4" cy="1171.1" r="11.5" fill="#337eba" stroke="#000" stroke-width="1.5"/>
<circle cx="1845.3" cy="1207.6" r="8.3" fill="#337eba" stroke="#000" stroke-width="1.5"/>
</g>
<text x="1816.0" y="874.6" font-size="25.1" fill="#4D4D4D" text-anchor="end">extracellular matrix structural constituent</text>
<text x="1816.0" y="901.5" font-size="25.1" fill="#4D4D4D" text-anchor="end">(FDR=4e−07)</text>
<text x="1816.0" y="924.9" font-size="25.1" fill="#4D4D4D" text-anchor="end">G protein−coupled receptor binding (FDR=0.0076)</text>
<text x="1816.0" y="947.6" font-size="25.1" fill="#4D4D4D" text-anchor="end">structural constituent of skin epidermis</text>
<text x="1816.0" y="974.5" font-size="25.1" fill="#4D4D4D" text-anchor="end">(FDR=9.1e−06)</text>
<text x="1816.0" y="998.0" font-size="25.1" fill="#4D4D4D" text-anchor="end">collagen binding (FDR=0.00015)</text>
<text x="1816.0" y="1020.7" font-size="25.1" fill="#4D4D4D" text-anchor="end">structural constituent of cytoskeleton</text>
<text x="1816.0" y="1047.6" font-size="25.1" fill="#4D4D4D" text-anchor="end">(FDR=0.0012)</text>
<text x="1816.0" y="1071.0" font-size="25.1" fill="#4D4D4D" text-anchor="end">growth factor binding (FDR=0.0021)</text>
<text x="1816.0" y="1093.7" font-size="25.1" fill="#4D4D4D" text-anchor="end">extracellular matrix structural constituent</text>
<text x="1816.0" y="1120.6" font-size="25.1" fill="#4D4D4D" text-anchor="end">conferring tensile strength (FDR=0.0076)</text>
<text x="1816.0" y="1144.0" font-size="25.1" fill="#4D4D4D" text-anchor="end">fatty acid binding (FDR=0.0076)</text>
<text x="1816.0" y="1180.6" font-size="25.1" fill="#4D4D4D" text-anchor="end">chemokine activity (FDR=0.0076)</text>
<text x="1816.0" y="1217.1" font-size="25.1" fill="#4D4D4D" text-anchor="end">dystroglycan binding (FDR=0.0076)</text>
<text x="2193.5" y="1043.2" font-size="25" fill="#1A1A1A" text-anchor="middle" transform="rotate(90 2193.5 1043.2)">MF</text>
<text x="1935.2" y="1261.5" font-size="24.5" fill="#4D4D4D" text-anchor="middle">0.1</text>
<text x="2071.1" y="1261.5" font-size="24.5" fill="#4D4D4D" text-anchor="middle">0.2</text>
<text x="2003.9" y="1296.9" font-size="31.9" fill="#000" text-anchor="middle">GeneRatio</text>
<text x="2274.5" y="439.6" font-size="31.6" fill="#000">p.adjust</text>
<rect x="2274.4" y="459.2" width="39.2" height="195.2" fill="url(#gbar)"/>
<line x1="2274.4" y1="510.2" x2="2282.2" y2="510.2" stroke="#fff" stroke-width="1.2"/>
<line x1="2305.8" y1="510.2" x2="2313.6" y2="510.2" stroke="#fff" stroke-width="1.2"/>
<text x="2330.6" y="518.6" font-size="24.2" fill="#000">0.002</text>
<line x1="2274.4" y1="561.2" x2="2282.2" y2="561.2" stroke="#fff" stroke-width="1.2"/>
<line x1="2305.8" y1="561.2" x2="2313.6" y2="561.2" stroke="#fff" stroke-width="1.2"/>
<text x="2330.6" y="569.6" font-size="24.2" fill="#000">0.004</text>
<line x1="2274.4" y1="612.6" x2="2282.2" y2="612.6" stroke="#fff" stroke-width="1.2"/>
<line x1="2305.8" y1="612.6" x2="2313.6" y2="612.6" stroke="#fff" stroke-width="1.2"/>
<text x="2330.6" y="621.0" font-size="24.2" fill="#000">0.006</text>
<text x="2274.5" y="744.0" font-size="31.6" fill="#000">Count</text>
<circle cx="2299.2" cy="783.3" r="14.4" fill="none" stroke="#000" stroke-width="1.4"/>
<text x="2339.8" y="791.9" font-size="24.2" fill="#000">5</text>
<circle cx="2299.2" cy="825.0" r="17.5" fill="none" stroke="#000" stroke-width="1.4"/>
<text x="2339.8" y="833.6" font-size="24.2" fill="#000">10</text>
<circle cx="2299.2" cy="872.0" r="20.4" fill="none" stroke="#000" stroke-width="1.4"/>
<text x="2339.8" y="880.6" font-size="24.2" fill="#000">15</text>
<text x="0.8" y="1388.0" font-size="44.8" fill="#000" font-weight="bold">C</text>
<text x="784.8" y="1389.0" font-size="51.5" fill="#000" text-anchor="middle" font-weight="bold">KEGG</text>
<line x1="660.2" y1="1456.3" x2="660.2" y2="2571.7" stroke="#EBEBEB" stroke-width="1.2"/>
<line x1="763.8" y1="1456.3" x2="763.8" y2="2571.7" stroke="#EBEBEB" stroke-width="1.2"/>
<line x1="867.2" y1="1456.3" x2="867.2" y2="2571.7" stroke="#EBEBEB" stroke-width="1.2"/>
<line x1="712.0" y1="1456.3" x2="712.0" y2="2571.7" stroke="#EBEBEB" stroke-width="2.2"/>
<line x1="815.5" y1="1456.3" x2="815.5" y2="2571.7" stroke="#EBEBEB" stroke-width="2.2"/>
<line x1="919.0" y1="1456.3" x2="919.0" y2="2571.7" stroke="#EBEBEB" stroke-width="2.2"/>
<line x1="619.3" y1="1489.3" x2="969.2" y2="1489.3" stroke="#EBEBEB" stroke-width="2.2"/>
<line x1="619.3" y1="1544.6" x2="969.2" y2="1544.6" stroke="#EBEBEB" stroke-width="2.2"/>
<line x1="619.3" y1="1599.8" x2="969.2" y2="1599.8" stroke="#EBEBEB" stroke-width="2.2"/>
<line x1="619.3" y1="1655.1" x2="969.2" y2="1655.1" stroke="#EBEBEB" stroke-width="2.2"/>
<line x1="619.3" y1="1710.3" x2="969.2" y2="1710.3" stroke="#EBEBEB" stroke-width="2.2"/>
<line x1="619.3" y1="1765.6" x2="969.2" y2="1765.6" stroke="#EBEBEB" stroke-width="2.2"/>
<line x1="619.3" y1="1820.9" x2="969.2" y2="1820.9" stroke="#EBEBEB" stroke-width="2.2"/>
<line x1="619.3" y1="1876.1" x2="969.2" y2="1876.1" stroke="#EBEBEB" stroke-width="2.2"/>
<line x1="619.3" y1="1931.4" x2="969.2" y2="1931.4" stroke="#EBEBEB" stroke-width="2.2"/>
<line x1="619.3" y1="1986.6" x2="969.2" y2="1986.6" stroke="#EBEBEB" stroke-width="2.2"/>
<line x1="619.3" y1="2041.9" x2="969.2" y2="2041.9" stroke="#EBEBEB" stroke-width="2.2"/>
<line x1="619.3" y1="2097.2" x2="969.2" y2="2097.2" stroke="#EBEBEB" stroke-width="2.2"/>
<line x1="619.3" y1="2152.4" x2="969.2" y2="2152.4" stroke="#EBEBEB" stroke-width="2.2"/>
<line x1="619.3" y1="2207.7" x2="969.2" y2="2207.7" stroke="#EBEBEB" stroke-width="2.2"/>
<line x1="619.3" y1="2262.9" x2="969.2" y2="2262.9" stroke="#EBEBEB" stroke-width="2.2"/>
<line x1="619.3" y1="2318.2" x2="969.2" y2="2318.2" stroke="#EBEBEB" stroke-width="2.2"/>
<line x1="619.3" y1="2373.5" x2="969.2" y2="2373.5" stroke="#EBEBEB" stroke-width="2.2"/>
<line x1="619.3" y1="2428.7" x2="969.2" y2="2428.7" stroke="#EBEBEB" stroke-width="2.2"/>
<line x1="619.3" y1="2484.0" x2="969.2" y2="2484.0" stroke="#EBEBEB" stroke-width="2.2"/>
<line x1="619.3" y1="2539.2" x2="969.2" y2="2539.2" stroke="#EBEBEB" stroke-width="2.2"/>
<g clip-path="url(#clipK)">
<circle cx="953.9" cy="1489.3" r="19.3" fill="#e06663" stroke="#000" stroke-width="1.5"/>
<circle cx="714.5" cy="1544.6" r="13.2" fill="#957797" stroke="#000" stroke-width="1.5"/>
<circle cx="714.5" cy="1599.8" r="13.2" fill="#3d7eb8" stroke="#000" stroke-width="1.5"/>
<circle cx="688.0" cy="1655.1" r="12.5" fill="#a8748c" stroke="#000" stroke-width="1.5"/>
<circle cx="688.0" cy="1710.3" r="12.5" fill="#a8748c" stroke="#000" stroke-width="1.5"/>
<circle cx="688.0" cy="1765.6" r="12.5" fill="#a8748c" stroke="#000" stroke-width="1.5"/>
<circle cx="688.0" cy="1820.9" r="12.5" fill="#a8748c" stroke="#000" stroke-width="1.5"/>
<circle cx="688.0" cy="1876.1" r="12.5" fill="#3d7eb8" stroke="#000" stroke-width="1.5"/>
<circle cx="688.0" cy="1931.4" r="12.5" fill="#3d7eb8" stroke="#000" stroke-width="1.5"/>
<circle cx="661.1" cy="1986.6" r="11.1" fill="#a8748c" stroke="#000" stroke-width="1.5"/>
<circle cx="661.1" cy="2041.9" r="11.1" fill="#957797" stroke="#000" stroke-width="1.5"/>
<circle cx="661.1" cy="2097.2" r="11.1" fill="#957797" stroke="#000" stroke-width="1.5"/>
<circle cx="661.1" cy="2152.4" r="11.1" fill="#3d7eb8" stroke="#000" stroke-width="1.5"/>
<circle cx="661.1" cy="2207.7" r="11.1" fill="#3d7eb8" stroke="#000" stroke-width="1.5"/>
<circle cx="661.1" cy="2262.9" r="11.1" fill="#3d7eb8" stroke="#000" stroke-width="1.5"/>
<circle cx="661.1" cy="2318.2" r="11.1" fill="#3d7eb8" stroke="#000" stroke-width="1.5"/>
<circle cx="661.1" cy="2373.5" r="11.1" fill="#3d7eb8" stroke="#000" stroke-width="1.5"/>
<circle cx="661.1" cy="2428.7" r="11.1" fill="#3d7eb8" stroke="#000" stroke-width="1.5"/>
<circle cx="661.1" cy="2484.0" r="11.1" fill="#3d7eb8" stroke="#000" stroke-width="1.5"/>
<circle cx="634.8" cy="2539.2" r="7.9" fill="#3d7eb8" stroke="#000" stroke-width="1.5"/>
</g>
<rect x="619.3" y="1456.3" width="349.9" height="1115.4" fill="none" stroke="#333333" stroke-width="1.4"/>
<line x1="612.8" y1="1489.3" x2="619.3" y2="1489.3" stroke="#333333" stroke-width="2.2"/>
<text x="609.6" y="1499.5" font-size="26.0" fill="#000" text-anchor="end">Cornified envelope formation (FDR=1.2e−10)</text>
<line x1="612.8" y1="1544.6" x2="619.3" y2="1544.6" stroke="#333333" stroke-width="2.2"/>
<text x="609.6" y="1554.8" font-size="26.0" fill="#000" text-anchor="end">Cytoskeleton in muscle cells (FDR=0.14)</text>
<line x1="612.8" y1="1599.8" x2="619.3" y2="1599.8" stroke="#333333" stroke-width="2.2"/>
<text x="609.6" y="1610.0" font-size="26.0" fill="#000" text-anchor="end">Cytokine−cytokine receptor interaction (FDR=0.23)</text>
<line x1="612.8" y1="1655.1" x2="619.3" y2="1655.1" stroke="#333333" stroke-width="2.2"/>
<text x="609.6" y="1650.6" font-size="26.0" fill="#000" text-anchor="end">Viral protein interaction with cytokine and</text>
<text x="609.6" y="1678.7" font-size="26.0" fill="#000" text-anchor="end">cytokine receptor (FDR=0.11)</text>
<line x1="612.8" y1="1710.3" x2="619.3" y2="1710.3" stroke="#333333" stroke-width="2.2"/>
<text x="609.6" y="1720.5" font-size="26.0" fill="#000" text-anchor="end">Staphylococcus aureus infection (FDR=0.11)</text>
<line x1="612.8" y1="1765.6" x2="619.3" y2="1765.6" stroke="#333333" stroke-width="2.2"/>
<text x="609.6" y="1775.8" font-size="26.0" fill="#000" text-anchor="end">NF−kappa B signaling pathway (FDR=0.11)</text>
<line x1="612.8" y1="1820.9" x2="619.3" y2="1820.9" stroke="#333333" stroke-width="2.2"/>
<text x="609.6" y="1831.1" font-size="26.0" fill="#000" text-anchor="end">Protein digestion and absorption (FDR=0.11)</text>
<line x1="612.8" y1="1876.1" x2="619.3" y2="1876.1" stroke="#333333" stroke-width="2.2"/>
<text x="609.6" y="1886.3" font-size="26.0" fill="#000" text-anchor="end">Chemokine signaling pathway (FDR=0.23)</text>
<line x1="612.8" y1="1931.4" x2="619.3" y2="1931.4" stroke="#333333" stroke-width="2.2"/>
<text x="609.6" y="1941.6" font-size="26.0" fill="#000" text-anchor="end">Proteoglycans in cancer (FDR=0.23)</text>
<line x1="612.8" y1="1986.6" x2="619.3" y2="1986.6" stroke="#333333" stroke-width="2.2"/>
<text x="609.6" y="1996.8" font-size="26.0" fill="#000" text-anchor="end">Proximal tubule bicarbonate reclamation (FDR=0.11)</text>
<line x1="612.8" y1="2041.9" x2="619.3" y2="2041.9" stroke="#333333" stroke-width="2.2"/>
<text x="609.6" y="2037.4" font-size="26.0" fill="#000" text-anchor="end">Intestinal immune network for IgA production</text>
<text x="609.6" y="2065.5" font-size="26.0" fill="#000" text-anchor="end">(FDR=0.14)</text>
<line x1="612.8" y1="2097.2" x2="619.3" y2="2097.2" stroke="#333333" stroke-width="2.2"/>
<text x="609.6" y="2107.4" font-size="26.0" fill="#000" text-anchor="end">Malaria (FDR=0.14)</text>
<line x1="612.8" y1="2152.4" x2="619.3" y2="2152.4" stroke="#333333" stroke-width="2.2"/>
<text x="609.6" y="2162.6" font-size="26.0" fill="#000" text-anchor="end">Complement and coagulation cascades (FDR=0.23)</text>
<line x1="612.8" y1="2207.7" x2="619.3" y2="2207.7" stroke="#333333" stroke-width="2.2"/>
<text x="609.6" y="2217.9" font-size="26.0" fill="#000" text-anchor="end">ECM−receptor interaction (FDR=0.23)</text>
<line x1="612.8" y1="2262.9" x2="619.3" y2="2262.9" stroke="#333333" stroke-width="2.2"/>
<text x="609.6" y="2273.1" font-size="26.0" fill="#000" text-anchor="end">Bile secretion (FDR=0.23)</text>
<line x1="612.8" y1="2318.2" x2="619.3" y2="2318.2" stroke="#333333" stroke-width="2.2"/>
<text x="609.6" y="2328.4" font-size="26.0" fill="#000" text-anchor="end">IL−17 signaling pathway (FDR=0.23)</text>
<line x1="612.8" y1="2373.5" x2="619.3" y2="2373.5" stroke="#333333" stroke-width="2.2"/>
<text x="609.6" y="2383.7" font-size="26.0" fill="#000" text-anchor="end">Rheumatoid arthritis (FDR=0.23)</text>
<line x1="612.8" y1="2428.7" x2="619.3" y2="2428.7" stroke="#333333" stroke-width="2.2"/>
<text x="609.6" y="2424.2" font-size="26.0" fill="#000" text-anchor="end">AGE−RAGE signaling pathway in diabetic</text>
<text x="609.6" y="2452.3" font-size="26.0" fill="#000" text-anchor="end">complications (FDR=0.23)</text>
<line x1="612.8" y1="2484.0" x2="619.3" y2="2484.0" stroke="#333333" stroke-width="2.2"/>
<text x="609.6" y="2494.2" font-size="26.0" fill="#000" text-anchor="end">Amoebiasis (FDR=0.23)</text>
<line x1="612.8" y1="2539.2" x2="619.3" y2="2539.2" stroke="#333333" stroke-width="2.2"/>
<text x="609.6" y="2549.4" font-size="26.0" fill="#000" text-anchor="end">Nitrogen metabolism (FDR=0.23)</text>
<line x1="712.0" y1="2571.7" x2="712.0" y2="2578.2" stroke="#333333" stroke-width="2.2"/>
<text x="712.0" y="2601.5" font-size="25.2" fill="#000" text-anchor="middle">0.1</text>
<line x1="815.5" y1="2571.7" x2="815.5" y2="2578.2" stroke="#333333" stroke-width="2.2"/>
<text x="815.5" y="2601.5" font-size="25.2" fill="#000" text-anchor="middle">0.2</text>
<line x1="919.0" y1="2571.7" x2="919.0" y2="2578.2" stroke="#333333" stroke-width="2.2"/>
<text x="919.0" y="2601.5" font-size="25.2" fill="#000" text-anchor="middle">0.3</text>
<text x="794.2" y="2630.8" font-size="25.4" fill="#000" text-anchor="middle">GeneRatio</text>
<text x="1005.6" y="1841.1" font-size="23.8" fill="#000">p.adjust</text>
<rect x="1005.3" y="1857.0" width="37.6" height="185.7" fill="url(#gbar)"/>
<line x1="1005.3" y1="1896.4" x2="1012.8" y2="1896.4" stroke="#fff" stroke-width="1.1"/>
<line x1="1035.4" y1="1896.4" x2="1042.9" y2="1896.4" stroke="#fff" stroke-width="1.1"/>
<text x="1054.3" y="1902.8" font-size="19.6" fill="#000">0.05</text>
<line x1="1005.3" y1="1936.1" x2="1012.8" y2="1936.1" stroke="#fff" stroke-width="1.1"/>
<line x1="1035.4" y1="1936.1" x2="1042.9" y2="1936.1" stroke="#fff" stroke-width="1.1"/>
<text x="1054.3" y="1942.5" font-size="19.6" fill="#000">0.10</text>
<line x1="1005.3" y1="1975.1" x2="1012.8" y2="1975.1" stroke="#fff" stroke-width="1.1"/>
<line x1="1035.4" y1="1975.1" x2="1042.9" y2="1975.1" stroke="#fff" stroke-width="1.1"/>
<text x="1054.3" y="1981.5" font-size="19.6" fill="#000">0.15</text>
<line x1="1005.3" y1="2014.8" x2="1012.8" y2="2014.8" stroke="#fff" stroke-width="1.1"/>
<line x1="1035.4" y1="2014.8" x2="1042.9" y2="2014.8" stroke="#fff" stroke-width="1.1"/>
<text x="1054.3" y="2021.2" font-size="19.6" fill="#000">0.20</text>
<text x="1005.6" y="2109.1" font-size="23.8" fill="#000">Count</text>
<circle cx="1027.5" cy="2142.9" r="14.8" fill="none" stroke="#000" stroke-width="1.3"/>
<text x="1061.2" y="2149.4" font-size="19.6" fill="#000">5</text>
<circle cx="1027.5" cy="2184.0" r="17.9" fill="none" stroke="#000" stroke-width="1.3"/>
<text x="1061.2" y="2190.5" font-size="19.6" fill="#000">10</text>
<text x="1144.3" y="1387.9" font-size="44.8" fill="#000" font-weight="bold">D</text>
<path d="M1181.0,1914.8 C1527.5,1990.7 1580.2,1979.1 1873.9,1763.2" fill="none" stroke="rgb(231,107,243)" stroke-opacity="0.8" stroke-width="3.8"/>
<path d="M1181.0,2079.0 C1548.8,1998.5 1562.1,1992.4 1873.9,1763.2" fill="none" stroke="rgb(231,107,243)" stroke-opacity="0.8" stroke-width="3.8"/>
<path d="M1238.1,2230.6 C1556.0,1996.9 1556.0,1996.9 1873.9,1763.2" fill="none" stroke="rgb(231,107,243)" stroke-opacity="0.8" stroke-width="3.8"/>
<path d="M1343.6,2346.6 C1556.0,1996.9 1556.0,1996.9 1768.4,1647.2" fill="none" stroke="rgb(0,176,246)" stroke-opacity="0.8" stroke-width="3.8"/>
<path d="M1481.4,2409.4 C1554.6,2004.8 1560.1,1990.2 1768.4,1647.2" fill="none" stroke="rgb(0,176,246)" stroke-opacity="0.8" stroke-width="3.8"/>
<path d="M1630.6,2409.4 C1561.7,2028.3 1572.2,1970.3 1768.4,1647.2" fill="none" stroke="rgb(0,176,246)" stroke-opacity="0.8" stroke-width="3.8"/>
<path d="M1181.0,1914.8 C1556.0,1996.9 1556.0,1996.9 1931.0,2079.0" fill="none" stroke="rgb(248,118,109)" stroke-opacity="0.8" stroke-width="3.8"/>
<path d="M1181.0,2079.0 C1548.8,1998.5 1563.2,1998.5 1931.0,2079.0" fill="none" stroke="rgb(248,118,109)" stroke-opacity="0.8" stroke-width="3.8"/>
<path d="M1238.1,2230.6 C1531.8,2014.7 1584.5,2003.1 1931.0,2079.0" fill="none" stroke="rgb(248,118,109)" stroke-opacity="0.8" stroke-width="3.8"/>
<path d="M1481.4,1584.4 C1534.2,1876.1 1665.8,1972.9 1931.0,1914.8" fill="none" stroke="rgb(163,165,0)" stroke-opacity="0.8" stroke-width="3.8"/>
<path d="M1343.6,1647.2 C1520.2,1938.0 1619.2,1983.1 1931.0,1914.8" fill="none" stroke="rgb(163,165,0)" stroke-opacity="0.8" stroke-width="3.8"/>
<path d="M1238.1,1763.2 C1531.8,1979.1 1584.5,1990.7 1931.0,1914.8" fill="none" stroke="rgb(163,165,0)" stroke-opacity="0.8" stroke-width="3.8"/>
<path d="M1873.9,2230.6 C1609.6,2036.3 1568.6,1927.4 1630.6,1584.4" fill="none" stroke="rgb(0,191,125)" stroke-opacity="0.8" stroke-width="3.8"/>
<path d="M1768.4,2346.6 C1572.2,2023.5 1561.7,1965.5 1630.6,1584.4" fill="none" stroke="rgb(0,191,125)" stroke-opacity="0.8" stroke-width="3.8"/>
<circle cx="1630.6" cy="1584.4" r="8.1" fill="#E5C494"/>
<circle cx="1768.4" cy="1647.2" r="17.5" fill="#E5C494"/>
<circle cx="1873.9" cy="1763.2" r="17.5" fill="#E5C494"/>
<circle cx="1931.0" cy="1914.8" r="17.5" fill="#E5C494"/>
<circle cx="1931.0" cy="2079.0" r="17.5" fill="#E5C494"/>
<circle cx="1873.9" cy="2230.6" r="17.5" fill="#B3B3B3"/>
<circle cx="1768.4" cy="2346.6" r="17.5" fill="#B3B3B3"/>
<circle cx="1630.6" cy="2409.4" r="17.5" fill="#B3B3B3"/>
<circle cx="1481.4" cy="2409.4" r="17.5" fill="#B3B3B3"/>
<circle cx="1343.6" cy="2346.6" r="17.5" fill="#B3B3B3"/>
<circle cx="1238.1" cy="2230.6" r="17.5" fill="#B3B3B3"/>
<circle cx="1181.0" cy="2079.0" r="17.5" fill="#B3B3B3"/>
<circle cx="1181.0" cy="1914.8" r="17.5" fill="#B3B3B3"/>
<circle cx="1238.1" cy="1763.2" r="17.5" fill="#B3B3B3"/>
<circle cx="1343.6" cy="1647.2" r="17.5" fill="#B3B3B3"/>
<circle cx="1481.4" cy="1584.4" r="17.5" fill="#B3B3B3"/>
<text x="1502.0" y="1576.2" font-size="25.25" fill="#000" stroke="#fff" stroke-width="5" stroke-linejoin="round" paint-order="stroke">Proximal tubule bicarbonate reclamation</text>
<text x="1375.5" y="1607.1" font-size="25.25" fill="#000" stroke="#fff" stroke-width="5" stroke-linejoin="round" paint-order="stroke">COL3A1</text>
<text x="1310.3" y="1638.1" font-size="25.25" fill="#000" stroke="#fff" stroke-width="5" stroke-linejoin="round" paint-order="stroke">COL1A2</text>
<text x="1571.0" y="1674.8" font-size="25.25" fill="#000" stroke="#fff" stroke-width="5" stroke-linejoin="round" paint-order="stroke">Staphylococcus aureus infection</text>
<text x="1286.6" y="1767.6" font-size="25.25" fill="#000" stroke="#fff" stroke-width="5" stroke-linejoin="round" paint-order="stroke">Viral protein interaction with cytokine and cytokine receptor</text>
<text x="1162.2" y="1789.0" font-size="25.25" fill="#000" stroke="#fff" stroke-width="5" stroke-linejoin="round" paint-order="stroke">COL15A1</text>
<text x="1157.4" y="1905.7" font-size="25.25" fill="#000" stroke="#fff" stroke-width="5" stroke-linejoin="round" paint-order="stroke">CCL21</text>
<text x="1560.2" y="1923.8" font-size="25.25" fill="#000" stroke="#fff" stroke-width="5" stroke-linejoin="round" paint-order="stroke">Protein digestion and absorption</text>
<text x="1157.4" y="2070.0" font-size="25.25" fill="#000" stroke="#fff" stroke-width="5" stroke-linejoin="round" paint-order="stroke">CCL19</text>
<text x="1574.2" y="2089.0" font-size="25.25" fill="#000" stroke="#fff" stroke-width="5" stroke-linejoin="round" paint-order="stroke">NF−kappa B signaling pathway</text>
<text x="1205.5" y="2222.4" font-size="25.25" fill="#000" stroke="#fff" stroke-width="5" stroke-linejoin="round" paint-order="stroke">CXCL12</text>
<text x="1824.8" y="2257.1" font-size="25.25" fill="#000" stroke="#fff" stroke-width="5" stroke-linejoin="round" paint-order="stroke">AQP1</text>
<text x="1760.5" y="2338.1" font-size="25.25" fill="#000" stroke="#fff" stroke-width="5" stroke-linejoin="round" paint-order="stroke">CA2</text>
<text x="1287.5" y="2373.8" font-size="25.25" fill="#000" stroke="#fff" stroke-width="5" stroke-linejoin="round" paint-order="stroke">KRT16</text>
<text x="1425.1" y="2436.7" font-size="25.25" fill="#000" stroke="#fff" stroke-width="5" stroke-linejoin="round" paint-order="stroke">KRT14</text>
<text x="1597.0" y="2436.7" font-size="25.25" fill="#000" stroke="#fff" stroke-width="5" stroke-linejoin="round" paint-order="stroke">C3</text>
<text x="1978.6" y="1813.5" font-size="20.5" fill="#000">size</text>
<circle cx="1999.3" cy="1841.0" r="8.1" fill="#000"/>
<text x="2028.6" y="1846.8" font-size="16.8" fill="#000">2.00</text>
<circle cx="1999.3" cy="1872.2" r="12.6" fill="#000"/>
<text x="2028.6" y="1878.2" font-size="16.8" fill="#000">2.25</text>
<circle cx="1999.3" cy="1904.7" r="14.7" fill="#000"/>
<text x="2028.6" y="1911.0" font-size="16.8" fill="#000">2.50</text>
<circle cx="1999.3" cy="1939.8" r="16.2" fill="#000"/>
<text x="2028.6" y="1945.8" font-size="16.8" fill="#000">2.75</text>
<circle cx="1999.3" cy="1979.0" r="17.5" fill="#000"/>
<text x="2028.6" y="1985.1" font-size="16.8" fill="#000">3.00</text>
<text x="1978.6" y="2027.5" font-size="20.2" fill="#000">category</text>
<line x1="1981.5" y1="2056.8" x2="2007.1" y2="2056.8" stroke="rgb(248,118,109)" stroke-opacity="0.8" stroke-width="3.3"/>
<text x="2019.0" y="2062.9" font-size="16.2" fill="#000">NF−kappa B signaling pathway</text>
<line x1="1981.5" y1="2088.0" x2="2007.1" y2="2088.0" stroke="rgb(163,165,0)" stroke-opacity="0.8" stroke-width="3.3"/>
<text x="2019.0" y="2094.1" font-size="16.2" fill="#000">Protein digestion and absorption</text>
<line x1="1981.5" y1="2119.2" x2="2007.1" y2="2119.2" stroke="rgb(0,191,125)" stroke-opacity="0.8" stroke-width="3.3"/>
<text x="2019.0" y="2125.3" font-size="16.2" fill="#000">Proximal tubule bicarbonate reclamation</text>
<line x1="1981.5" y1="2150.4" x2="2007.1" y2="2150.4" stroke="rgb(0,176,246)" stroke-opacity="0.8" stroke-width="3.3"/>
<text x="2019.0" y="2156.5" font-size="16.2" fill="#000">Staphylococcus aureus infection</text>
<line x1="1981.5" y1="2181.6" x2="2007.1" y2="2181.6" stroke="rgb(231,107,243)" stroke-opacity="0.8" stroke-width="3.3"/>
<text x="2019.0" y="2187.7" font-size="16.2" fill="#000">Viral protein interaction with cytokine and cytokine receptor</text>
</svg></body></html>
